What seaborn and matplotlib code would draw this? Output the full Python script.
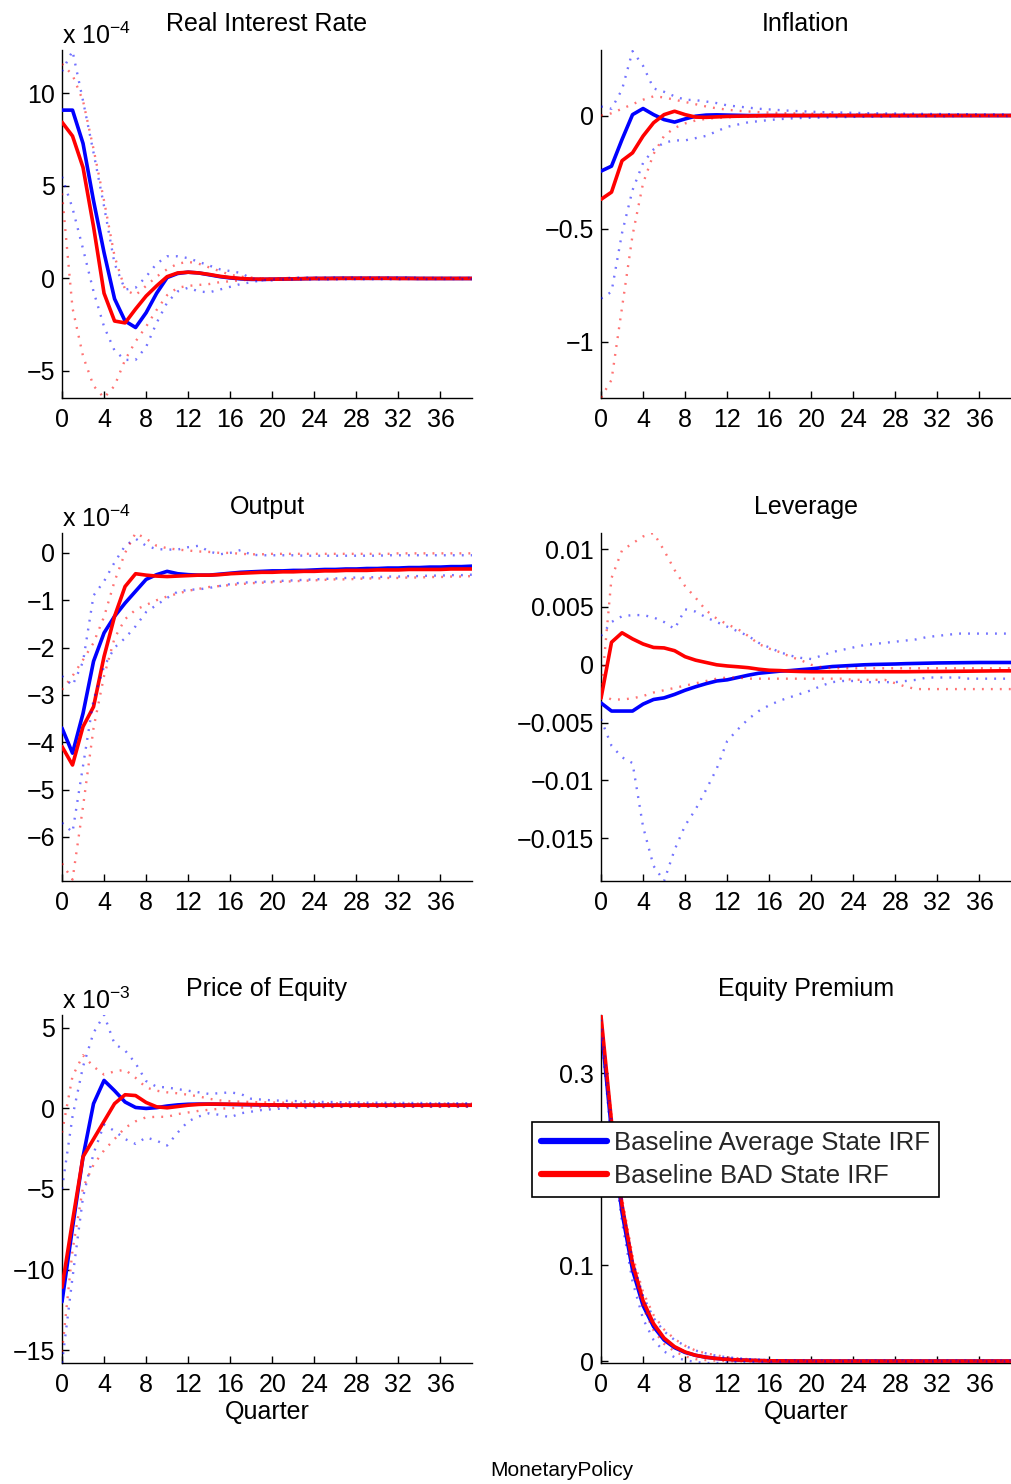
import numpy as np
import pandas as pd
import matplotlib
matplotlib.use("Agg")
import matplotlib.pyplot as plt
from matplotlib import ticker
from matplotlib.lines import Line2D
import seaborn as sns

# ---------------- data ----------------
quarters = list(range(40))

# Real interest rate (x 1e-4)
rir_avg = [9.1, 9.1, 7.3, 4.2, 1.4, -1.1, -2.3, -2.65, -1.85, -0.8,
           0.05, 0.27, 0.34, 0.3, 0.2, 0.1, 0.03, -0.02, -0.05, -0.05,
           -0.04, -0.03, -0.02, -0.01, 0.0, 0.0, 0.01, 0.01, 0.01, 0.01,
           0.01, 0.01, 0.01, 0.01, 0.0, 0.0, 0.0, 0.0, 0.0, 0.0]
rir_bad = [8.45, 7.7, 6.0, 2.8, -0.8, -2.3, -2.4, -1.65, -0.95, -0.4,
           0.1, 0.3, 0.34, 0.3, 0.22, 0.12, 0.05, 0.0, -0.03, -0.04,
           -0.04, -0.03, -0.02, -0.01, 0.0, 0.0, 0.0, 0.01, 0.01, 0.01,
           0.01, 0.01, 0.0, 0.0, 0.0, 0.0, 0.0, 0.0, 0.0, 0.0]
rir_avg_hi = [11.2, 12.3, 9.6, 6.8, 3.9, 0.8, -0.6, -0.5, 0.1, 0.8,
              1.2, 1.2, 1.1, 0.9, 0.7, 0.5, 0.4, 0.3, 0.0, -0.1,
              -0.1, 0.0, 0.05, 0.05, 0.05, 0.05, 0.05, 0.05, 0.05, 0.05,
              0.05, 0.05, 0.05, 0.05, 0.03, 0.03, 0.03, 0.03, 0.03, 0.03]
rir_avg_lo = [5.5, 3.8, 1.6, -0.7, -2.6, -3.9, -4.4, -4.4, -3.7, -2.4,
              -1.3, -0.7, -0.5, -0.7, -0.75, -0.6, -0.45, -0.3, -0.2, -0.1,
              -0.05, -0.05, -0.05, -0.05, -0.05, -0.05, -0.05, -0.04, -0.04, -0.04,
              -0.04, -0.04, -0.04, -0.03, -0.03, -0.03, -0.03, -0.03, -0.03, -0.03]
rir_bad_hi = [11.6, 11.0, 9.6, 7.0, 4.2, 1.2, -0.6, -0.9, -0.4, 0.1,
              0.5, 0.8, 0.9, 0.8, 0.6, 0.4, 0.2, 0.1, 0.05, 0.0,
              0.0, 0.02, 0.03, 0.03, 0.03, 0.03, 0.03, 0.03, 0.03, 0.03,
              0.03, 0.03, 0.03, 0.02, 0.02, 0.02, 0.02, 0.02, 0.02, 0.02]
rir_bad_lo = [4.6, -1.6, -4.2, -5.8, -6.45, -5.8, -4.4, -3.4, -2.6, -1.7,
              -0.9, -0.5, -0.4, -0.35, -0.3, -0.2, -0.15, -0.1, -0.05, 0.0,
              -0.02, -0.03, -0.03, -0.03, -0.03, -0.03, -0.03, -0.03, -0.03, -0.03,
              -0.02, -0.02, -0.02, -0.02, -0.02, -0.02, -0.02, -0.02, -0.02, -0.02]

# Inflation
inf_avg = [-0.246, -0.224, -0.106, 0.004, 0.031, 0.004, -0.018, -0.029, -0.015, -0.003,
           0.002, 0.003, 0.002, 0.001, 0.0, 0.0, 0.0, 0.0, 0.0, 0.0,
           0.0, 0.0, 0.0, 0.0, 0.0, 0.0, 0.0, 0.0, 0.0, 0.0,
           0.0, 0.0, 0.0, 0.0, 0.0, 0.0, 0.0, 0.0, 0.0, 0.0]
inf_bad = [-0.371, -0.339, -0.2, -0.165, -0.091, -0.032, 0.004, 0.019, 0.004, -0.007,
           -0.008, -0.006, -0.004, -0.003, -0.002, -0.001, 0.0, 0.0, 0.0, 0.0,
           0.0, 0.0, 0.0, 0.0, 0.0, 0.0, 0.0, 0.0, 0.0, 0.0,
           0.0, 0.0, 0.0, 0.0, 0.0, 0.0, 0.0, 0.0, 0.0, 0.0]
inf_avg_hi = [0.04, 0.03, 0.115, 0.285, 0.22, 0.12, 0.105, 0.085, 0.07, 0.068,
              0.062, 0.055, 0.045, 0.04, 0.035, 0.03, 0.027, 0.024, 0.021, 0.019,
              0.017, 0.015, 0.014, 0.013, 0.012, 0.011, 0.01, 0.009, 0.009, 0.008,
              0.008, 0.007, 0.007, 0.006, 0.006, 0.006, 0.005, 0.005, 0.005, 0.005]
inf_avg_lo = [-0.81, -0.78, -0.52, -0.33, -0.21, -0.15, -0.12, -0.11, -0.11, -0.10,
              -0.09, -0.07, -0.05, -0.04, -0.03, -0.025, -0.02, -0.016, -0.013, -0.011,
              -0.01, -0.009, -0.008, -0.007, -0.006, -0.005, -0.005, -0.004, -0.004, -0.004,
              -0.003, -0.003, -0.003, -0.003, -0.002, -0.002, -0.002, -0.002, -0.002, -0.002]
inf_bad_hi = [0.0, 0.01, 0.03, 0.05, 0.07, 0.085, 0.08, 0.07, 0.06, 0.05,
              0.04, 0.032, 0.026, 0.021, 0.018, 0.015, 0.013, 0.011, 0.01, 0.009,
              0.008, 0.007, 0.006, 0.006, 0.005, 0.005, 0.004, 0.004, 0.004, 0.003,
              0.003, 0.003, 0.003, 0.002, 0.002, 0.002, 0.002, 0.002, 0.002, 0.002]
inf_bad_lo = [-1.248, -1.17, -0.85, -0.53, -0.30, -0.17, -0.09, -0.055, -0.035, -0.022,
              -0.015, -0.01, -0.008, -0.006, -0.005, -0.004, -0.003, -0.003, -0.002, -0.002,
              -0.002, -0.002, -0.002, -0.002, -0.001, -0.001, -0.001, -0.001, -0.001, -0.001,
              -0.001, -0.001, -0.001, -0.001, -0.001, -0.001, -0.001, -0.001, -0.001, -0.001]

# Output (x 1e-4)
out_avg = [-3.7, -4.23, -3.39, -2.29, -1.69, -1.34, -1.06, -0.81, -0.56, -0.46,
           -0.39, -0.44, -0.46, -0.47, -0.47, -0.45, -0.43, -0.41, -0.40, -0.39,
           -0.38, -0.38, -0.37, -0.37, -0.36, -0.35, -0.35, -0.34, -0.34, -0.33,
           -0.33, -0.32, -0.32, -0.31, -0.31, -0.30, -0.30, -0.29, -0.29, -0.28]
out_bad = [-4.09, -4.48, -3.67, -3.25, -2.19, -1.34, -0.71, -0.44, -0.47, -0.49,
           -0.5, -0.49, -0.48, -0.47, -0.47, -0.46, -0.44, -0.43, -0.42, -0.41,
           -0.41, -0.40, -0.40, -0.39, -0.39, -0.38, -0.38, -0.37, -0.37, -0.37,
           -0.36, -0.36, -0.36, -0.35, -0.35, -0.35, -0.35, -0.34, -0.34, -0.34]
out_avg_hi = [-2.6, -2.8, -2.3, -0.9, -0.6, -0.2, 0.15, 0.3, 0.15, 0.08,
              0.07, 0.07, 0.12, 0.15, 0.03, -0.03, 0.0, 0.06, -0.04, -0.05,
              -0.05, -0.05, -0.05, -0.06, -0.06, -0.06, -0.06, -0.06, -0.06, -0.06,
              -0.06, -0.05, -0.05, -0.05, -0.05, -0.05, -0.05, -0.05, -0.05, -0.05]
out_avg_lo = [-5.7, -5.9, -4.5, -3.1, -2.4, -2.0, -1.8, -1.55, -1.25, -1.1,
              -0.95, -0.82, -0.78, -0.77, -0.74, -0.7, -0.66, -0.63, -0.62, -0.61,
              -0.60, -0.59, -0.58, -0.57, -0.56, -0.55, -0.54, -0.53, -0.52, -0.52,
              -0.51, -0.50, -0.50, -0.49, -0.49, -0.48, -0.48, -0.47, -0.47, -0.46]
out_bad_hi = [-2.89, -2.6, -2.26, -1.9, -1.35, -0.6, 0.0, 0.42, 0.3, 0.15,
              0.1, 0.07, 0.05, 0.03, 0.02, 0.0, 0.0, -0.02, -0.03, -0.03,
              -0.02, -0.02, -0.02, -0.02, -0.02, -0.02, -0.02, -0.02, -0.02, -0.02,
              -0.02, -0.02, -0.01, -0.01, -0.01, -0.01, -0.01, -0.01, -0.01, -0.01]
out_bad_lo = [-6.56, -6.9, -5.36, -3.7, -2.6, -1.8, -1.4, -1.2, -1.1, -1.0,
              -0.92, -0.86, -0.8, -0.76, -0.72, -0.7, -0.68, -0.66, -0.64, -0.63,
              -0.62, -0.61, -0.60, -0.59, -0.58, -0.57, -0.56, -0.56, -0.55, -0.54,
              -0.54, -0.53, -0.53, -0.52, -0.52, -0.51, -0.51, -0.50, -0.50, -0.49]

# Leverage
lev_avg = [-0.0033, -0.0040, -0.0040, -0.0040, -0.0034, -0.0030, -0.00286, -0.00256, -0.0022, -0.0019,
           -0.00163, -0.0014, -0.0013, -0.0011, -0.0009, -0.00073, -0.00064, -0.00055, -0.0005, -0.00042,
           -0.00035, -0.00025, -0.00015, -0.0001, -0.00005, 0.0, 0.00003, 0.00005, 0.00007, 0.0001,
           0.00012, 0.00014, 0.00016, 0.00017, 0.00018, 0.00019, 0.0002, 0.0002, 0.0002, 0.0002]
lev_bad = [-0.0029, 0.00195, 0.00277, 0.00224, 0.0018, 0.0015, 0.00146, 0.00122, 0.0007, 0.0004,
           0.0002, 0.0, -0.0001, -0.00017, -0.00025, -0.00038, -0.00047, -0.0005, -0.00055, -0.00058,
           -0.0006, -0.0006, -0.0006, -0.0006, -0.0006, -0.0006, -0.0006, -0.0006, -0.0006, -0.0006,
           -0.00059, -0.00058, -0.00058, -0.00057, -0.00056, -0.00055, -0.00054, -0.00053, -0.00052, -0.00052]
lev_avg_hi = [0.0025, 0.0037, 0.0042, 0.0043, 0.0043, 0.0041, 0.0037, 0.0031, 0.0048, 0.0046,
              0.0041, 0.0037, 0.0033, 0.0029, 0.0025, 0.0019, 0.0015, 0.0011, 0.0008, 0.0006,
              0.0005, 0.0008, 0.0011, 0.0013, 0.0015, 0.0017, 0.0018, 0.0019, 0.002, 0.0021,
              0.0022, 0.0024, 0.0025, 0.0026, 0.0027, 0.0027, 0.0027, 0.0027, 0.0027, 0.0027]
lev_avg_lo = [-0.0047, -0.0070, -0.0080, -0.0085, -0.0140, -0.0174, -0.0187, -0.0160, -0.0139, -0.0125,
              -0.0108, -0.0090, -0.0066, -0.0056, -0.0047, -0.0040, -0.0035, -0.0031, -0.0028, -0.0025,
              -0.0022, -0.0018, -0.0015, -0.0014, -0.0014, -0.0015, -0.0015, -0.0015, -0.0015, -0.0014,
              -0.0013, -0.0011, -0.0011, -0.0011, -0.0011, -0.0012, -0.0012, -0.0012, -0.0012, -0.0012]
lev_bad_hi = [-0.0025, 0.0075, 0.0099, 0.0105, 0.0111, 0.0114, 0.0099, 0.0082, 0.0068, 0.0058,
              0.0047, 0.0040, 0.0035, 0.0031, 0.0025, 0.0018, 0.0014, 0.0011, 0.0007, 0.0004,
              0.0, -0.0002, -0.0003, -0.0003, -0.0003, -0.0003, -0.0003, -0.0003, -0.0003, -0.0003,
              -0.0003, -0.0003, -0.0003, -0.0003, -0.0003, -0.0003, -0.0003, -0.0003, -0.0003, -0.0003]
lev_bad_lo = [-0.0026, -0.0030, -0.0030, -0.0029, -0.0027, -0.0024, -0.0022, -0.0020, -0.0018, -0.0016,
              -0.0014, -0.0012, -0.0011, -0.0011, -0.0012, -0.0012, -0.0012, -0.0012, -0.0012, -0.0012,
              -0.0012, -0.0012, -0.0012, -0.0012, -0.0013, -0.0013, -0.0013, -0.0013, -0.0016, -0.0019,
              -0.0021, -0.0021, -0.0021, -0.0021, -0.0021, -0.0021, -0.0021, -0.0021, -0.0021, -0.0021]

# Price of equity (x 1e-3)
pe_avg = [-12.0, -7.4, -3.0, 0.3, 1.74, 1.1, 0.4, 0.06, 0.0, 0.05,
          0.15, 0.22, 0.26, 0.27, 0.27, 0.26, 0.25, 0.24, 0.23, 0.22,
          0.21, 0.21, 0.2, 0.2, 0.2, 0.2, 0.2, 0.2, 0.2, 0.2,
          0.2, 0.2, 0.2, 0.2, 0.2, 0.2, 0.2, 0.2, 0.2, 0.2]
pe_bad = [-11.1, -7.0, -3.0, -1.9, -0.8, 0.3, 0.85, 0.8, 0.37, 0.1,
          0.04, 0.12, 0.2, 0.25, 0.27, 0.27, 0.26, 0.25, 0.24, 0.23,
          0.22, 0.21, 0.2, 0.2, 0.2, 0.2, 0.2, 0.2, 0.2, 0.2,
          0.2, 0.2, 0.2, 0.2, 0.2, 0.2, 0.2, 0.2, 0.2, 0.2]
pe_avg_hi = [-5.0, -0.5, 2.6, 4.7, 5.8, 4.0, 3.6, 2.8, 1.7, 1.35,
             1.3, 1.2, 1.1, 1.0, 0.9, 0.95, 1.0, 0.9, 0.6, 0.55,
             0.5, 0.48, 0.46, 0.44, 0.42, 0.4, 0.4, 0.38, 0.38, 0.36,
             0.36, 0.35, 0.35, 0.34, 0.34, 0.33, 0.33, 0.32, 0.32, 0.32]
pe_avg_lo = [-15.8, -10.5, -5.5, -2.8, -1.0, -1.4, -1.9, -2.2, -1.8, -2.0,
             -2.3, -1.5, -0.8, -0.5, -0.3, -0.4, -0.55, -0.3, -0.2, -0.1,
             -0.05, 0.0, 0.05, 0.05, 0.08, 0.08, 0.1, 0.1, 0.1, 0.1,
             0.1, 0.1, 0.1, 0.1, 0.1, 0.1, 0.1, 0.1, 0.1, 0.1]
pe_bad_hi = [-1.5, 2.0, 3.3, 2.6, 2.1, 2.3, 2.4, 1.9, 1.3, 1.1,
             1.0, 0.94, 0.85, 0.75, 0.6, 0.5, 0.45, 0.42, 0.4, 0.38,
             0.37, 0.36, 0.35, 0.34, 0.33, 0.33, 0.32, 0.32, 0.31, 0.31,
             0.3, 0.3, 0.3, 0.3, 0.3, 0.3, 0.3, 0.3, 0.3, 0.3]
pe_bad_lo = [-15.1, -8.8, -4.9, -3.5, -2.6, -1.9, -1.2, -0.8, -0.55, -0.52,
             -0.52, -0.35, -0.25, -0.15, -0.08, -0.02, 0.02, 0.05, 0.07, 0.08,
             0.09, 0.1, 0.1, 0.1, 0.1, 0.1, 0.1, 0.1, 0.1, 0.1,
             0.1, 0.1, 0.1, 0.1, 0.1, 0.1, 0.1, 0.1, 0.1, 0.1]

# Equity premium
ep_avg = [0.352, 0.24, 0.155, 0.095, 0.058, 0.036, 0.022, 0.014, 0.009, 0.006,
          0.004, 0.0027, 0.0018, 0.0012, 0.0008, 0.0005, 0.0003, 0.0002, 0.0001, 0.0001,
          0.0, 0.0, 0.0, 0.0, 0.0, 0.0, 0.0, 0.0, 0.0, 0.0,
          0.0, 0.0, 0.0, 0.0, 0.0, 0.0, 0.0, 0.0, 0.0, 0.0]
ep_bad = [0.36, 0.25, 0.163, 0.102, 0.063, 0.039, 0.024, 0.015, 0.0095, 0.006,
          0.004, 0.0027, 0.0018, 0.0012, 0.0008, 0.0005, 0.0003, 0.0002, 0.0001, 0.0001,
          0.0, 0.0, 0.0, 0.0, 0.0, 0.0, 0.0, 0.0, 0.0, 0.0,
          0.0, 0.0, 0.0, 0.0, 0.0, 0.0, 0.0, 0.0, 0.0, 0.0]
ep_avg_hi = [0.356, 0.25, 0.165, 0.105, 0.068, 0.045, 0.031, 0.022, 0.016, 0.011,
             0.008, 0.0055, 0.004, 0.003, 0.002, 0.0015, 0.001, 0.0008, 0.0006, 0.0005,
             0.0004, 0.0004, 0.0004, 0.0004, 0.0004, 0.0004, 0.0004, 0.0004, 0.0004, 0.0004,
             0.0004, 0.0004, 0.0004, 0.0004, 0.0004, 0.0004, 0.0004, 0.0004, 0.0004, 0.0004]
ep_avg_lo = [0.345, 0.23, 0.145, 0.083, 0.044, 0.022, 0.01, 0.004, 0.001, -0.001,
             -0.002, -0.002, -0.0015, -0.001, -0.001, -0.0008, -0.0006, -0.0005, -0.0004, -0.0003,
             -0.0003, -0.0003, -0.0003, -0.0003, -0.0003, -0.0003, -0.0003, -0.0003, -0.0003, -0.0003,
             -0.0003, -0.0003, -0.0003, -0.0003, -0.0003, -0.0003, -0.0003, -0.0003, -0.0003, -0.0003]
ep_bad_hi = [0.361, 0.255, 0.17, 0.11, 0.072, 0.048, 0.033, 0.023, 0.016, 0.011,
             0.008, 0.006, 0.004, 0.003, 0.002, 0.0015, 0.001, 0.0008, 0.0006, 0.0005,
             0.0004, 0.0004, 0.0004, 0.0004, 0.0004, 0.0004, 0.0004, 0.0004, 0.0004, 0.0004,
             0.0004, 0.0004, 0.0004, 0.0004, 0.0004, 0.0004, 0.0004, 0.0004, 0.0004, 0.0004]
ep_bad_lo = [0.355, 0.245, 0.157, 0.095, 0.056, 0.032, 0.018, 0.01, 0.005, 0.002,
             0.001, 0.0005, 0.0, -0.0003, -0.0003, -0.0003, -0.0003, -0.0003, -0.0003, -0.0003,
             -0.0003, -0.0003, -0.0003, -0.0003, -0.0003, -0.0003, -0.0003, -0.0003, -0.0003, -0.0003,
             -0.0003, -0.0003, -0.0003, -0.0003, -0.0003, -0.0003, -0.0003, -0.0003, -0.0003, -0.0003]

titles = ["Real Interest Rate", "Inflation", "Output", "Leverage",
          "Price of Equity", "Equity Premium"]
scale_labels = [r"x 10$^{-4}$", None, r"x 10$^{-4}$", None, r"x 10$^{-3}$", None]
legend_labels = ["Baseline Average State IRF", "Baseline BAD State IRF"]
x_ticks = [0, 4, 8, 12, 16, 20, 24, 28, 32, 36]
y_ticks = [[-5, 0, 5, 10], [-1, -0.5, 0], [-6, -5, -4, -3, -2, -1, 0],
           [-0.015, -0.01, -0.005, 0, 0.005, 0.01], [-15, -10, -5, 0, 5],
           [0, 0.1, 0.2, 0.3]]
y_limits = [(-6.46, 12.35), (-1.25, 0.29), (-6.93, 0.42),
            (-0.0187, 0.0114), (-15.8, 5.8), (-0.002, 0.361)]

panels = [
    (rir_avg, rir_bad, rir_avg_hi, rir_avg_lo, rir_bad_hi, rir_bad_lo),
    (inf_avg, inf_bad, inf_avg_hi, inf_avg_lo, inf_bad_hi, inf_bad_lo),
    (out_avg, out_bad, out_avg_hi, out_avg_lo, out_bad_hi, out_bad_lo),
    (lev_avg, lev_bad, lev_avg_hi, lev_avg_lo, lev_bad_hi, lev_bad_lo),
    (pe_avg, pe_bad, pe_avg_hi, pe_avg_lo, pe_bad_hi, pe_bad_lo),
    (ep_avg, ep_bad, ep_avg_hi, ep_avg_lo, ep_bad_hi, ep_bad_lo),
]

# ---------------- style ----------------
sns.set_theme(style="white")
plt.rcParams["font.family"] = ["Liberation Sans", "DejaVu Sans"]
plt.rcParams["mathtext.fontset"] = "custom"
plt.rcParams["mathtext.rm"] = "Liberation Sans"
plt.rcParams["mathtext.it"] = "Liberation Sans"
plt.rcParams["axes.unicode_minus"] = True

BLUE = (0.0, 0.0, 1.0)
RED = (1.0, 0.0, 0.0)
FS = 18
DOT = (0, (0.8, 3.0))

W, H = 1011, 1484
fig = plt.figure(figsize=(W / 100, H / 100), dpi=100)
fig.patch.set_facecolor("white")

col_left = [62, 601]
col_width = [410, 410]
row_top = [50, 533, 1015]
row_h = 348


def fmt(v, pos=None):
    s = "%g" % v
    return s.replace("-", "\u2212")


for i, series in enumerate(panels):
    r, c = divmod(i, 2)
    left = col_left[c] / W
    bottom = 1 - (row_top[r] + row_h) / H
    ax = fig.add_axes([left, bottom, col_width[c] / W, row_h / H])
    ax.set_facecolor("white")
    avg, bad, avg_hi, avg_lo, bad_hi, bad_lo = series
    df = pd.DataFrame({"Quarter": quarters, "avg": avg, "bad": bad,
                       "avg_hi": avg_hi, "avg_lo": avg_lo,
                       "bad_hi": bad_hi, "bad_lo": bad_lo})
    sns.lineplot(data=df, x="Quarter", y="avg", ax=ax, color=BLUE,
                 linewidth=2.6, zorder=3)
    sns.lineplot(data=df, x="Quarter", y="bad", ax=ax, color=RED,
                 linewidth=2.6, zorder=3.1)
    for col, colr in [("avg_hi", BLUE), ("avg_lo", BLUE),
                      ("bad_hi", RED), ("bad_lo", RED)]:
        sns.lineplot(data=df, x="Quarter", y=col, ax=ax, color=colr,
                     linewidth=1.7, linestyle=DOT, alpha=0.55, zorder=4)

    ax.set_xlim(0, 39)
    ax.set_ylim(*y_limits[i])
    ax.set_xticks(x_ticks)
    ax.set_yticks(y_ticks[i])
    ax.yaxis.set_major_formatter(ticker.FuncFormatter(fmt))
    ax.xaxis.set_major_formatter(ticker.FuncFormatter(fmt))
    ax.tick_params(axis="both", direction="in", length=5, width=1,
                   labelsize=FS, colors="black",
                   bottom=True, left=True, top=False, right=False)
    ax.tick_params(axis="x", pad=7)
    ax.tick_params(axis="y", pad=5)
    for s in ["top", "right"]:
        ax.spines[s].set_visible(False)
    for s in ["left", "bottom"]:
        ax.spines[s].set_color("black")
        ax.spines[s].set_linewidth(1.0)
    ax.set_ylabel("")
    if r == 2:
        ax.set_xlabel("Quarter", fontsize=FS, labelpad=2, color="black")
    else:
        ax.set_xlabel("")
    ax.set_title(titles[i], fontsize=FS, pad=13.5, color="black")
    if scale_labels[i]:
        ax.annotate(scale_labels[i], xy=(0, 1), xycoords="axes fraction",
                    xytext=(0, 4), textcoords="offset points",
                    ha="left", va="baseline", fontsize=FS, color="black")

handles = [Line2D([0], [0], color=BLUE, lw=4.5),
           Line2D([0], [0], color=RED, lw=4.5)]
leg = fig.legend(handles, legend_labels, loc="upper left",
                 bbox_to_anchor=(532 / W, 1 - 1122 / H),
                 bbox_transform=fig.transFigure,
                 fontsize=18.5, frameon=True, fancybox=False, shadow=False,
                 framealpha=1, edgecolor="black", handlelength=2.55,
                 handletextpad=0.3, borderpad=0.35, labelspacing=0.34,
                 borderaxespad=0)
leg.get_frame().set_linewidth(1.2)

fig.text(562 / W, 1 - 1470 / H, "MonetaryPolicy", ha="center", va="center",
         fontsize=15, color="black")

fig.savefig("out.png", dpi=100, facecolor="white")
